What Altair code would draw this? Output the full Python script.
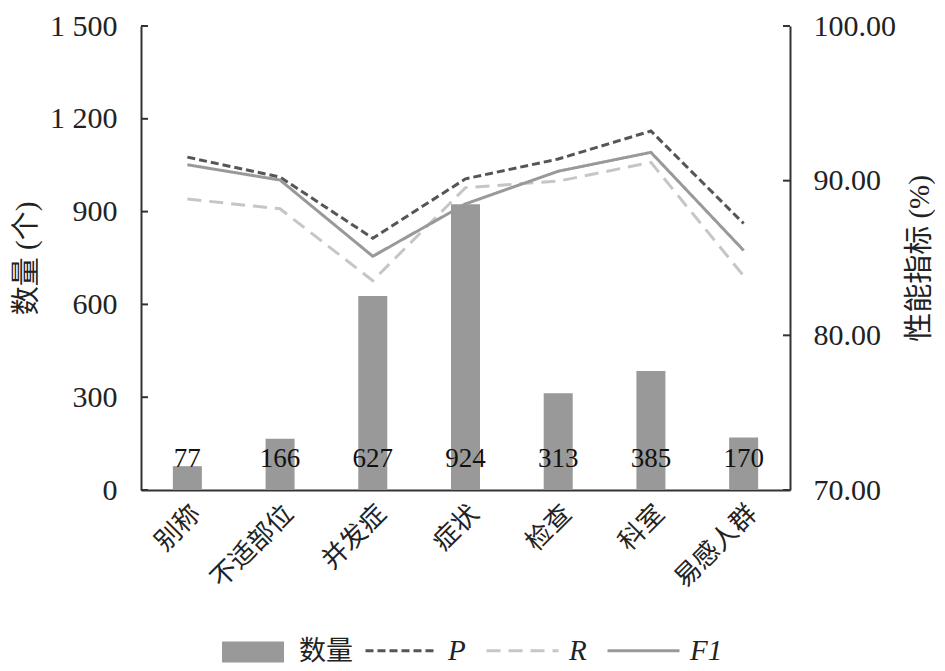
import altair as alt
import pandas as pd

categories = ["别称", "不适部位", "并发症", "症状", "检查", "科室", "易感人群"]
counts = [77, 166, 627, 924, 313, 385, 170]
p_vals = [91.52, 90.23, 86.28, 90.12, 91.40, 93.21, 87.23]
r_vals = [88.81, 88.18, 83.53, 89.55, 89.97, 91.18, 83.84]
f1_vals = [91.03, 90.04, 85.11, 88.50, 90.61, 91.83, 85.49]
metrics = ["P", "R", "F1"]
left_ticks = [0, 300, 600, 900, 1200, 1500]
right_ticks = [70, 80, 90, 100]

W, H = 649, 464
SERIF = "Liberation Serif, Noto Sans CJK SC"
CJK = "Noto Sans CJK SC"
DARK = "#333333"

bar_df = pd.DataFrame({"cat": categories, "count": counts, "series": ["数量"] * len(categories)})
rows = []
for m, vals in zip(metrics, [p_vals, r_vals, f1_vals]):
    for i, (c, v) in enumerate(zip(categories, vals)):
        rows.append({"cat": c, "metric": m, "value": v, "idx": i})
line_df = pd.DataFrame(rows)
lt_df = pd.DataFrame({"tv": left_ticks})
rt_df = pd.DataFrame({"tv": right_ticks})

x_enc = alt.X(
    "cat:N", sort=categories,
    scale=alt.Scale(paddingInner=0, paddingOuter=0),
    axis=alt.Axis(title=None, labelAngle=-45, labelFont=CJK, labelFontSize=26,
                  labelPadding=10, ticks=False, tickSize=0, labelColor="#222222",
                  domainColor=DARK, domainWidth=2),
)

left_scale = alt.Scale(domain=[0, 1500], nice=False, zero=True)
left_axis = alt.Axis(values=left_ticks, title="数量 (个)", titleFont=SERIF, titleFontSize=29,
                     titleFontWeight="normal", titlePadding=8, titleColor="#222222",
                     labelFont="Liberation Serif", labelFontSize=30, labelColor="#222222",
                     labelPadding=24, ticks=False, tickSize=0,
                     labelExpr="replace(format(datum.value, ','), ',', ' ')",
                     domainColor=DARK, domainWidth=2)

right_scale = alt.Scale(domain=[70, 100], nice=False, zero=False)
right_axis = alt.Axis(orient="right", values=right_ticks, format=".2f", title="性能指标 (%)",
                      titleFont=SERIF, titleFontSize=29, titleFontWeight="normal",
                      titleAngle=270, titleBaseline="top", titlePadding=10, titleColor="#222222",
                      labelFont="Liberation Serif", labelFontSize=30, labelColor="#222222",
                      labelPadding=23, ticks=False, tickSize=0,
                      domainColor=DARK, domainWidth=2)

bars = alt.Chart(bar_df).mark_bar(size=29).encode(
    x=x_enc,
    y=alt.Y("count:Q", scale=left_scale, axis=left_axis),
    fill=alt.Fill("series:N", scale=alt.Scale(domain=["数量"], range=["#999999"]),
                  legend=alt.Legend(orient="none", legendX=81, legendY=595, title=None,
                                    symbolType="M-1,-0.34H1V0.34H-1Z", symbolSize=3844,
                                    symbolStrokeWidth=0, labelFont=CJK, labelFontSize=27,
                                    labelOffset=15, labelColor="#222222")),
)

labels = alt.Chart(bar_df).mark_text(font="Liberation Serif", fontSize=27, color="#111111",
                                     baseline="middle").encode(
    x=alt.X("cat:N", sort=categories),
    y=alt.datum(100),
    text=alt.Text("count:Q"),
)

lticks = alt.Chart(lt_df).mark_rule(color=DARK, strokeWidth=2).encode(
    y=alt.Y("tv:Q", scale=left_scale, axis=left_axis),
    x=alt.value(0), x2=alt.value(7),
)

line_legend = alt.Legend(orient="none", legendX=223, legendY=587, title=None,
                         direction="horizontal", symbolType="stroke", symbolSize=5184,
                         symbolStrokeWidth=3, labelFont="Liberation Serif",
                         labelFontStyle="italic", labelFontSize=29, labelOffset=9,
                         columnPadding=14, labelColor="#222222")

lines = alt.Chart(line_df).mark_line(strokeWidth=3).encode(
    x=alt.X("cat:N", sort=categories),
    y=alt.Y("value:Q", scale=right_scale, axis=right_axis),
    stroke=alt.Stroke("metric:N", sort=metrics,
                      scale=alt.Scale(domain=metrics, range=["#555555", "#c6c6c6", "#999999"]),
                      legend=line_legend),
    strokeDash=alt.StrokeDash("metric:N", sort=metrics,
                              scale=alt.Scale(domain=metrics, range=[[8, 4], [14, 8], [1, 0]]),
                              legend=line_legend),
    order=alt.Order("idx:Q"),
)

rticks = alt.Chart(rt_df).mark_rule(color=DARK, strokeWidth=2).encode(
    y=alt.Y("tv:Q", scale=right_scale, axis=right_axis),
    x=alt.value(W - 7), x2=alt.value(W),
)

left = alt.layer(bars, labels, lticks)
right = alt.layer(lines, rticks)

chart = alt.layer(left, right).resolve_scale(y="independent").properties(
    width=W, height=H,
    autosize=alt.AutoSizeParams(type="none"),
    padding={"left": 133, "top": 18, "right": 145, "bottom": 180},
    background="white",
).configure_view(stroke=None).configure_axis(grid=False)

chart.save("out.html", embed_options={"renderer": "svg", "actions": False})
